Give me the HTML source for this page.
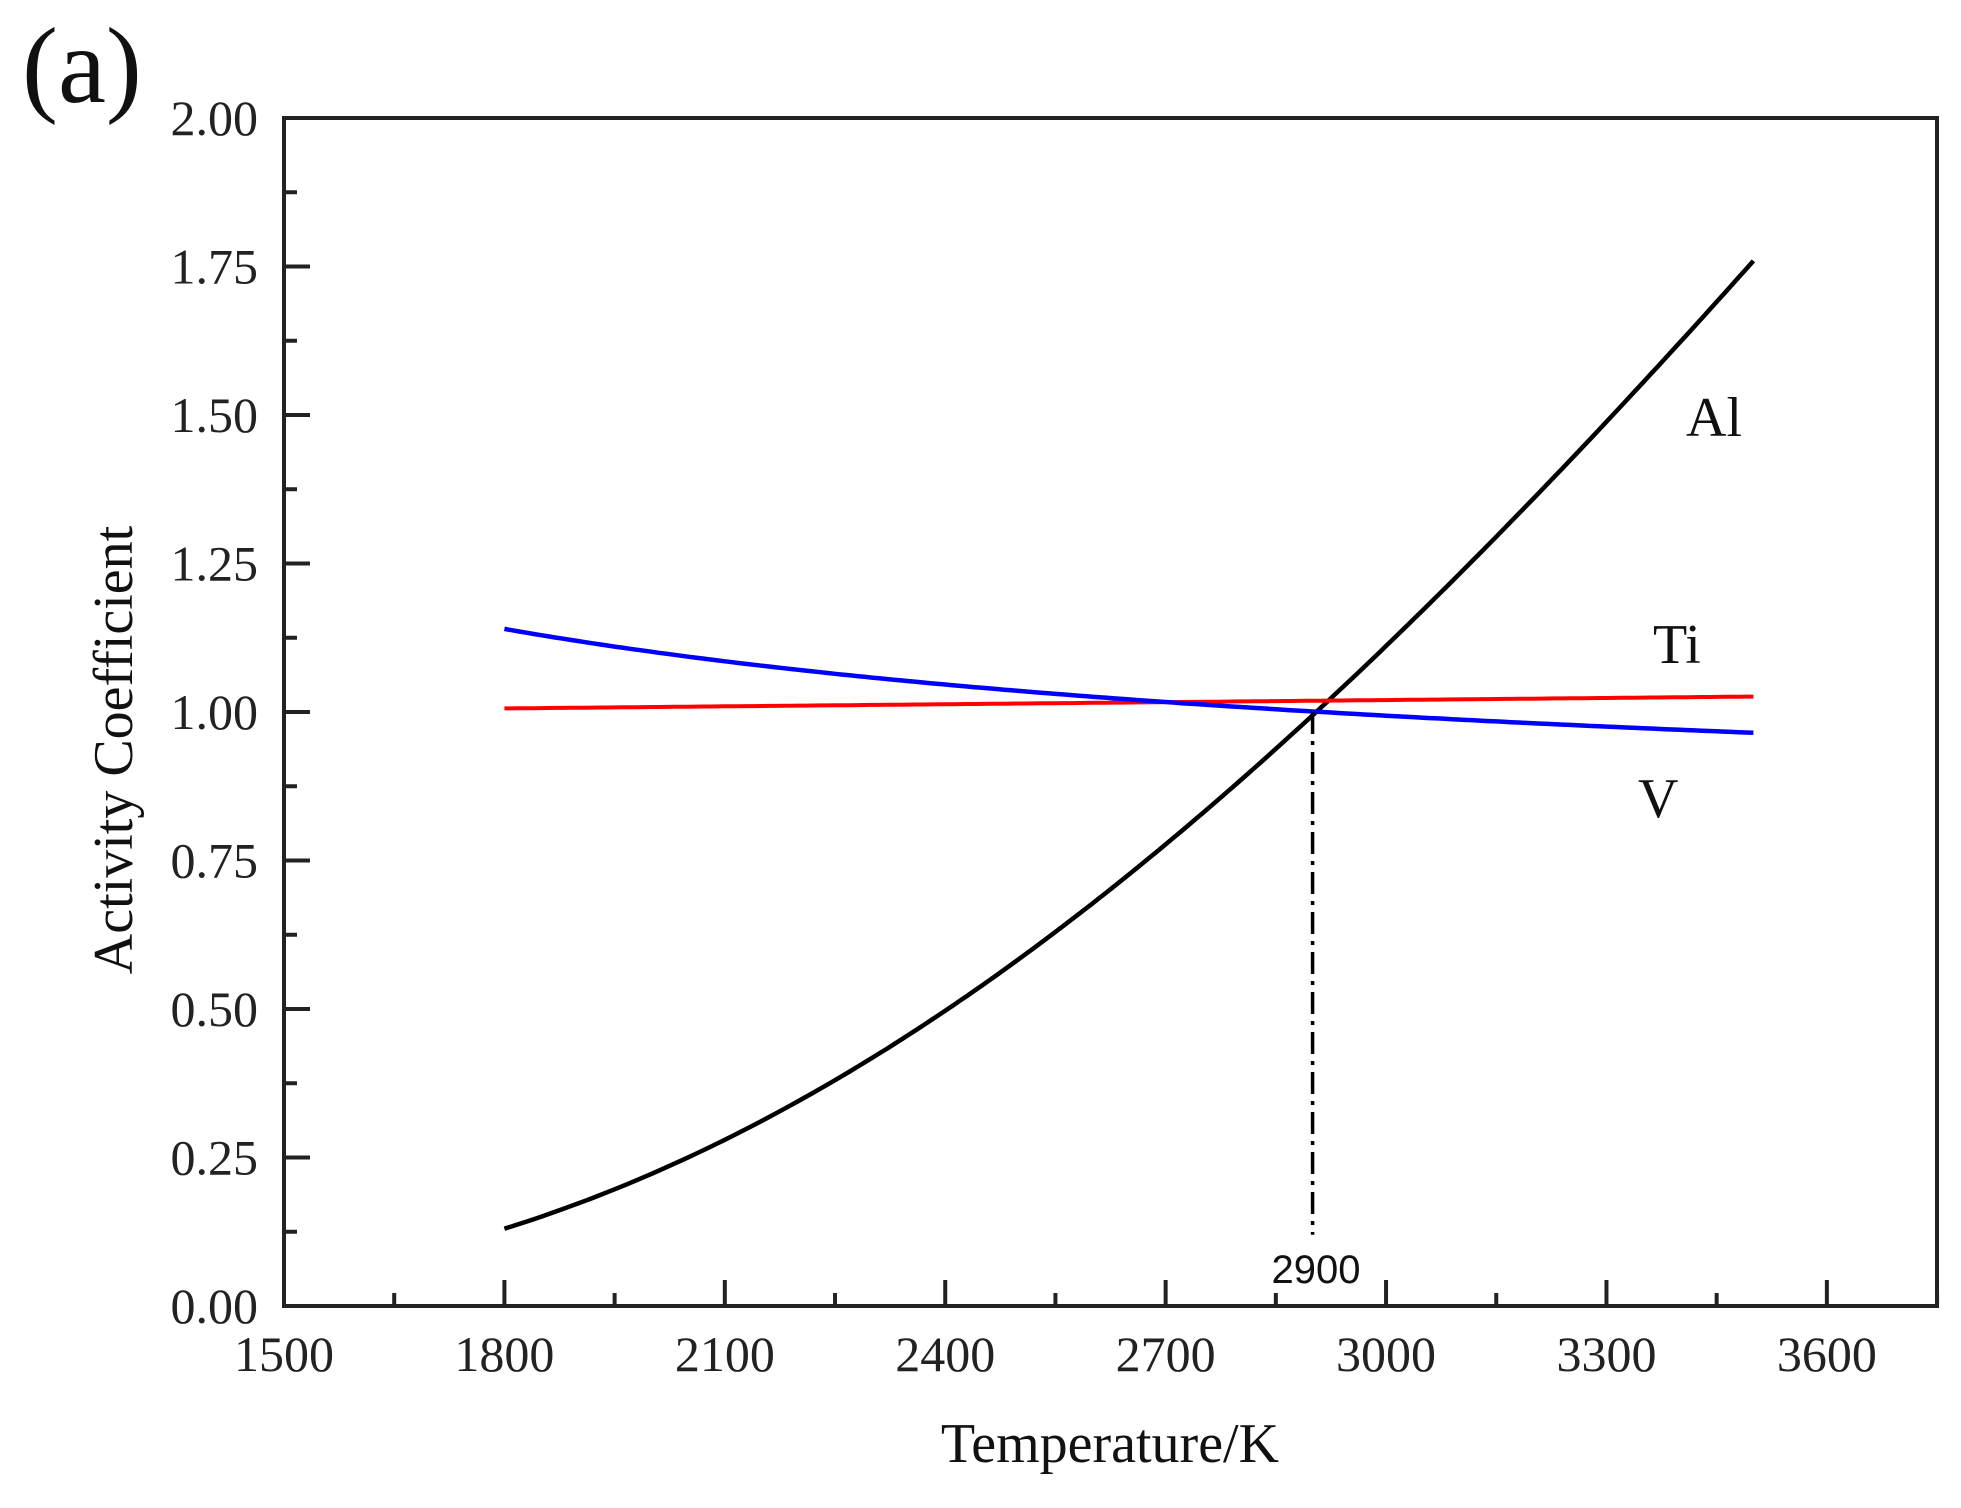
<!DOCTYPE html>
<html><head><meta charset="utf-8"><style>
html,body{margin:0;padding:0;background:#fff;}
svg{display:block;}
</style></head><body>
<svg id="s" width="1961" height="1508" xmlns="http://www.w3.org/2000/svg" font-family="Liberation Serif, serif">
<text x="22" y="102" font-size="108" fill="#111">(a)</text>
<g id="ticks" stroke="#222" stroke-width="4"></g>
<rect x="284" y="118" width="1653" height="1188" fill="none" stroke="#222" stroke-width="4"/>
<g id="labels" font-size="50" fill="#222"></g>
<path id="al" fill="none" stroke="#000" stroke-width="4.5"/>
<path id="ti" fill="none" stroke="#ff0000" stroke-width="4"/>
<path id="v" fill="none" stroke="#0000ff" stroke-width="4.5"/>
<line id="dd" stroke="#000" stroke-width="3.5" stroke-dasharray="22,7,4,7"/>
<text x="1316" y="1283" font-size="40" font-family="Liberation Sans, sans-serif" text-anchor="middle" fill="#111">2900</text>
<text x="1686" y="436" font-size="56" fill="#111">Al</text>
<text x="1653" y="663" font-size="56" fill="#111">Ti</text>
<text x="1638" y="817" font-size="56" fill="#111">V</text>
<text x="1110" y="1462" font-size="56" text-anchor="middle" fill="#111">Temperature/K</text>
<text transform="translate(132,750) rotate(-90)" font-size="56" text-anchor="middle" fill="#111">Activity Coefficient</text>
</svg>
<script>
var NS="http://www.w3.org/2000/svg";
function X(t){return 284+(t-1500)*0.7347;}
function Y(v){return 1306-v*594;}
var tk=document.getElementById('ticks'),lb=document.getElementById('labels');
function line(x1,y1,x2,y2){var l=document.createElementNS(NS,'line');l.setAttribute('x1',x1);l.setAttribute('y1',y1);l.setAttribute('x2',x2);l.setAttribute('y2',y2);tk.appendChild(l);}
function txt(x,y,s,a){var t=document.createElementNS(NS,'text');t.setAttribute('x',x);t.setAttribute('y',y);t.setAttribute('text-anchor',a);t.textContent=s;lb.appendChild(t);}
for(var t=1500;t<=3750;t+=150){var maj=(t%300==0);var x=X(t);line(x,1306,x,1306-(maj?26:13));if(maj&&t<=3600)txt(x,1371,String(t),'middle');}
for(var i=0;i<=16;i++){var v=i*0.125;var y=Y(v);var maj=(i%2==0);line(284,y,284+(maj?26:13),y);if(maj)txt(258,y+17,v.toFixed(2),'end');}
function path(id,f){var d='';for(var t=1800;t<=3500;t+=10){d+=(t==1800?'M':'L')+X(t).toFixed(1)+','+Y(f(t)).toFixed(1);}document.getElementById(id).setAttribute('d',d);}
path('al',function(t){return Math.exp(0.565-9652*(1/t-1/3500));});
path('ti',function(t){return 1.006+(t-1800)/1700*0.02;});
path('v',function(t){return Math.exp(-0.0356+617*(1/t-1/3500));});
var dd=document.getElementById('dd');dd.setAttribute('x1',X(2900));dd.setAttribute('x2',X(2900));dd.setAttribute('y1',Y(1.0));dd.setAttribute('y2',Y(0.12));
</script>
</body></html>
